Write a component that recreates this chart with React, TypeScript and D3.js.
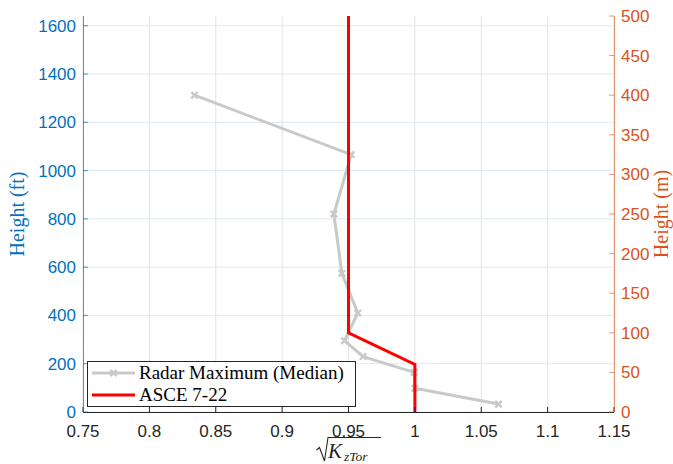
import React from "react";
import * as d3 from "d3";

const xTicks = [0.75, 0.8, 0.85, 0.9, 0.95, 1, 1.05, 1.1, 1.15];
const ftTicks = [0, 200, 400, 600, 800, 1000, 1200, 1400, 1600];
const mTicks = [0, 50, 100, 150, 200, 250, 300, 350, 400, 450, 500];

const radarHeightsM = [10, 30, 50, 70, 90, 125, 175, 250, 325, 400];
const radarValues = [1.063, 1.0, 0.9995, 0.961, 0.947, 0.957, 0.945, 0.939, 0.952, 0.834];

const asceHeightsM = [0, 60, 100, 500];
const asceValues = [1.0, 1.0, 0.95, 0.95];

const W = 673, H = 464;
const L = 83, R = 614, T = 16, B = 412;
const BLUE = "#0072BD";
const ORANGE = "#D95319";
const GRAY = "#c9c9c9";
const DARK = "#262626";

export default function App() {
  const x = d3.scaleLinear().domain([0.75, 1.15]).range([L, R]);
  const yM = d3.scaleLinear().domain([0, 500]).range([B, T]);
  const yFt = d3.scaleLinear().domain([0, 500 / 0.3048]).range([B, T]);

  const line = d3.line<[number, number]>().x(d => x(d[0])).y(d => yM(d[1]));
  const radarPts: [number, number][] = radarValues.map((v, i) => [v, radarHeightsM[i]]);
  const ascePts: [number, number][] = asceValues.map((v, i) => [v, asceHeightsM[i]]);

  const cross = (cx: number, cy: number, key: any) => {
    const s = 3.2;
    return (
      <path key={key} d={`M${cx - s},${cy - s}L${cx + s},${cy + s}M${cx - s},${cy + s}L${cx + s},${cy - s}`}
        stroke={GRAY} strokeWidth={2.4} fill="none" />
    );
  };

  const sans = "Liberation Sans, Arial, Helvetica, sans-serif";
  const serif = "Liberation Serif, Times New Roman, serif";

  return (
    <svg width={W} height={H} style={{ position: "absolute", left: 0, top: 0, background: "#fff" }}>
      <rect x={0} y={0} width={W} height={H} fill="#fff" />
      {/* grid */}
      {xTicks.map((t, i) => (
        <line key={"gx" + i} x1={x(t)} x2={x(t)} y1={T} y2={B} stroke="#e3e3e3" strokeWidth={1} />
      ))}
      {ftTicks.map((t, i) => (
        <line key={"gy" + i} x1={L} x2={R} y1={yFt(t)} y2={yFt(t)} stroke="#dcebf6" strokeWidth={1} />
      ))}
      {/* data */}
      <path d={line(radarPts) || ""} stroke={GRAY} strokeWidth={3} fill="none" strokeLinejoin="round" />
      {radarPts.map((p, i) => cross(x(p[0]), yM(p[1]), "m" + i))}
      <path d={line(ascePts) || ""} stroke="#ff0000" strokeWidth={3} fill="none" />

      {/* x axis */}
      <line x1={L} x2={R} y1={B + 0.5} y2={B + 0.5} stroke={DARK} strokeWidth={1} />
      {xTicks.map((t, i) => (
        <g key={"xt" + i}>
          <line x1={x(t)} x2={x(t)} y1={B} y2={B - 5} stroke={DARK} strokeWidth={1} />
          <text x={x(t)} y={B + 25} textAnchor="middle" fontFamily={sans} fontSize={17} fill={DARK}>{String(t)}</text>
        </g>
      ))}
      {/* left axis */}
      <line x1={L + 0.5} x2={L + 0.5} y1={T} y2={B} stroke={BLUE} strokeWidth={1} opacity={0.7} />
      {ftTicks.map((t, i) => (
        <g key={"yl" + i}>
          <line x1={L} x2={L + 5} y1={yFt(t)} y2={yFt(t)} stroke={BLUE} strokeWidth={1} opacity={0.7} />
          <text x={L - 7} y={yFt(t) + 6} textAnchor="end" fontFamily={sans} fontSize={17} fill={BLUE}>{String(t)}</text>
        </g>
      ))}
      {/* right axis */}
      <line x1={R + 0.5} x2={R + 0.5} y1={T} y2={B} stroke={ORANGE} strokeWidth={1} opacity={0.6} />
      {mTicks.map((t, i) => (
        <g key={"yr" + i}>
          <line x1={R} x2={R - 5} y1={yM(t)} y2={yM(t)} stroke={ORANGE} strokeWidth={1} opacity={0.6} />
          <text x={R + 7} y={yM(t) + 6} textAnchor="start" fontFamily={sans} fontSize={17} fill={ORANGE}>{String(t)}</text>
        </g>
      ))}

      {/* axis labels */}
      <text transform={`translate(24,${(T + B) / 2}) rotate(-90)`} textAnchor="middle" fontFamily={serif} fontSize={20} fill={BLUE}>Height (ft)</text>
      <text transform={`translate(668,${(T + B) / 2}) rotate(-90)`} textAnchor="middle" fontFamily={serif} fontSize={20} fill={ORANGE}>Height (m)</text>

      {/* x label sqrt(K_zTor) */}
      <path d="M316.5,450 L319.5,447.5 L324.5,461 L328,437.5 L381,437.5" stroke={DARK} strokeWidth={1.1} fill="none" />
      <text x={328} y={458} fontFamily={serif} fontStyle="italic" fontSize={21} fill={DARK}>K</text>
      <text x={344} y={461} fontFamily={serif} fontStyle="italic" fontSize={13.5} fill={DARK}>zTor</text>

      {/* legend */}
      <rect x={87.5} y={361.5} width={268} height={45} fill="#fff" stroke="#262626" strokeWidth={1} opacity={1} />
      <line x1={92} x2={135} y1={373} y2={373} stroke={GRAY} strokeWidth={3} />
      {cross(113.5, 373, "lg")}
      <line x1={92} x2={135} y1={395} y2={395} stroke="#ff0000" strokeWidth={3} />
      <text x={139} y={379} fontFamily={serif} fontSize={19} fill="#000">Radar Maximum (Median)</text>
      <text x={139} y={401} fontFamily={serif} fontSize={19} fill="#000">ASCE 7-22</text>
    </svg>
  );
}
